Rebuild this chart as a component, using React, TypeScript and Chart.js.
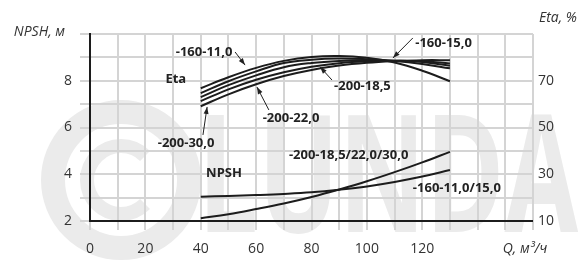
import React, { useEffect, useRef } from "react";
import { Chart, registerables } from "chart.js";

Chart.register(...registerables);

// Flow rate Q, m³/h
const Q = [40, 50, 60, 70, 80, 90, 100, 110, 120, 130];

// Efficiency curves, %
const eta160_11 = [66.8, 71.5, 75.5, 78.5, 80.2, 80.6, 79.8, 77.8, 74.3, 69.8];
const eta160_15 = [64.7, 69.8, 74.0, 77.6, 79.0, 79.5, 79.2, 78.5, 77.2, 75.3];
const eta200_185 = [63.0, 68.1, 72.3, 75.8, 77.6, 78.5, 78.8, 78.6, 78.0, 76.4];
const eta200_22 = [61.3, 66.3, 70.4, 73.6, 76.0, 77.5, 78.3, 78.6, 78.3, 77.4];
const eta200_30 = [59.1, 64.2, 68.5, 72.0, 74.6, 76.5, 77.7, 78.4, 78.8, 78.8];

// NPSH curves, m
const npsh160 = [3.04, 3.07, 3.11, 3.16, 3.23, 3.34, 3.48, 3.67, 3.9, 4.18];
const npsh200 = [2.12, 2.29, 2.51, 2.75, 3.03, 3.35, 3.7, 4.09, 4.51, 4.96];

// Tick labels
const xTickLabels = [0, 20, 40, 60, 80, 100, 120];
const yTickLabels = [2, 4, 6, 8];
const y1TickLabels = [10, 30, 50, 70];

// Annotations in data coordinates (Q, NPSH scale)
const labels = [
  { text: "-160-11,0", q: 41.2, n: 9.23, arrow: [52.4, 9.23, 56.0, 8.67] },
  { text: "Eta", q: 31.0, n: 8.07 },
  { text: "-160-15,0", q: 127.7, n: 9.61, arrow: [116.6, 9.83, 109.4, 8.97] },
  { text: "-200-18,5", q: 98.4, n: 7.78, arrow: [87.4, 8.03, 83.1, 8.59] },
  { text: "-200-22,0", q: 72.6, n: 6.41, arrow: [64.6, 6.75, 60.3, 7.73] },
  { text: "-200-30,0", q: 34.7, n: 5.34, arrow: [40.8, 5.68, 42.3, 6.88] },
  { text: "NPSH", q: 48.4, n: 4.05 },
  { text: "-200-18,5/22,0/30,0", q: 93.4, n: 4.82 },
  { text: "-160-11,0/15,0", q: 132.5, n: 3.41 },
];

const pts = (ys: number[]) => Q.map((q, i) => ({ x: q, y: ys[i] }));

const FONT = "'Open Sans', 'Noto Sans', sans-serif";

export default function App() {
  const ref = useRef<HTMLCanvasElement | null>(null);

  useEffect(() => {
    if (!ref.current) return;
    const lineStyle = {
      borderColor: "#1c1c1c",
      borderWidth: 2,
      pointRadius: 0,
      tension: 0.4,
      fill: false,
    };
    const etaSets = [eta160_11, eta160_15, eta200_185, eta200_22, eta200_30].map((d) => ({
      ...lineStyle,
      data: pts(d),
      yAxisID: "y1",
    }));
    const npshSets = [npsh160, npsh200].map((d) => ({
      ...lineStyle,
      data: pts(d),
      yAxisID: "y",
    }));

    const watermark = {
      id: "watermark",
      beforeDraw(chart: any) {
        const ctx = chart.ctx as CanvasRenderingContext2D;
        ctx.save();
        ctx.fillStyle = "#fff";
        ctx.fillRect(0, 0, chart.width, chart.height);
        ctx.strokeStyle = "#ebebeb";
        ctx.fillStyle = "#ebebeb";
        // copyright ring
        ctx.lineWidth = 24;
        ctx.beginPath();
        ctx.arc(121, 180, 68, 0, Math.PI * 2);
        ctx.stroke();
        ctx.lineWidth = 14;
        ctx.beginPath();
        ctx.arc(121, 180, 34, Math.PI * 0.25, Math.PI * 1.75);
        ctx.stroke();
        // LUNDA
        ctx.font = `bold 164px ${FONT}`;
        ctx.textBaseline = "alphabetic";
        ctx.textAlign = "left";
        const w = ctx.measureText("LUNDA").width;
        const target = 380;
        ctx.translate(198, 232);
        ctx.scale(target / w, 1);
        ctx.fillText("LUNDA", 0, 0);
        ctx.restore();
      },
    };

    const overlay = {
      id: "overlay",
      afterDraw(chart: any) {
        const ctx = chart.ctx as CanvasRenderingContext2D;
        const xs = chart.scales.x;
        const ys = chart.scales.y;
        const ca = chart.chartArea;
        ctx.save();
        // black axes
        ctx.strokeStyle = "#1c1c1c";
        ctx.lineWidth = 2;
        ctx.beginPath();
        ctx.moveTo(ca.left, ca.top - 1);
        ctx.lineTo(ca.left, ca.bottom);
        ctx.lineTo(ca.right, ca.bottom);
        ctx.stroke();

        // annotations
        ctx.fillStyle = "#222";
        ctx.font = `bold 13px ${FONT}`;
        ctx.textAlign = "center";
        ctx.textBaseline = "middle";
        for (const l of labels) {
          ctx.fillText(l.text, xs.getPixelForValue(l.q), ys.getPixelForValue(l.n));
          if (l.arrow) {
            const x1 = xs.getPixelForValue(l.arrow[0]);
            const y1 = ys.getPixelForValue(l.arrow[1]);
            const x2 = xs.getPixelForValue(l.arrow[2]);
            const y2 = ys.getPixelForValue(l.arrow[3]);
            ctx.strokeStyle = "#222";
            ctx.lineWidth = 1;
            ctx.beginPath();
            ctx.moveTo(x1, y1);
            ctx.lineTo(x2, y2);
            ctx.stroke();
            const a = Math.atan2(y2 - y1, x2 - x1);
            const L = 7;
            const W = 2.5;
            ctx.beginPath();
            ctx.moveTo(x2, y2);
            ctx.lineTo(x2 - L * Math.cos(a) + W * Math.sin(a), y2 - L * Math.sin(a) - W * Math.cos(a));
            ctx.lineTo(x2 - L * Math.cos(a) - W * Math.sin(a), y2 - L * Math.sin(a) + W * Math.cos(a));
            ctx.closePath();
            ctx.fill();
          }
        }

        // axis titles
        ctx.fillStyle = "#333";
        ctx.font = `italic 14px ${FONT}`;
        ctx.textAlign = "right";
        ctx.textBaseline = "middle";
        ctx.fillText("NPSH, м", ca.left - 25, ca.top - 2);
        ctx.fillText("Eta, %", chart.width - 3, 18);
        ctx.textAlign = "center";
        ctx.fillText("Q, м³/ч", ca.right - 8, 249);
        ctx.restore();
      },
    };

    const chart = new Chart(ref.current, {
      type: "line",
      data: { datasets: [...etaSets, ...npshSets] as any },
      options: {
        animation: false,
        responsive: false,
        devicePixelRatio: 1,
        layout: { padding: { top: 34, left: 0, right: 0, bottom: 0 } },
        plugins: { legend: { display: false }, tooltip: { enabled: false } },
        scales: {
          x: {
            type: "linear",
            min: 0,
            max: 160,
            afterFit: (s: any) => {
              s.height = 41;
            },
            grid: { color: "#d4d4d4", lineWidth: 2, tickLength: 9, drawTicks: true },
            border: { display: false },
            ticks: {
              stepSize: 10,
              autoSkip: false,
              maxRotation: 0,
              padding: 11,
              color: "#333",
              font: { family: FONT, size: 14 },
              callback: (v: any) => (xTickLabels.includes(v) ? String(v) : ""),
            },
          },
          y: {
            type: "linear",
            position: "left",
            min: 2,
            max: 10,
            afterFit: (s: any) => {
              s.width = 90;
            },
            grid: { color: "#d4d4d4", lineWidth: 2, tickLength: 10, drawTicks: true },
            border: { display: false },
            ticks: {
              stepSize: 1,
              autoSkip: false,
              padding: 8,
              color: "#333",
              font: { family: FONT, size: 14 },
              callback: (v: any) => (yTickLabels.includes(v) ? String(v) : ""),
            },
          },
          y1: {
            type: "linear",
            position: "right",
            min: 10,
            max: 90,
            afterFit: (s: any) => {
              s.width = 47;
            },
            grid: { display: false, drawTicks: false, tickLength: 0 },
            border: { display: false },
            ticks: {
              stepSize: 10,
              autoSkip: false,
              padding: 5,
              color: "#333",
              font: { family: FONT, size: 14 },
              callback: (v: any) => (y1TickLabels.includes(v) ? String(v) : ""),
            },
          },
        },
      },
      plugins: [watermark, overlay],
    });
    return () => chart.destroy();
  }, []);

  return (
    <div style={{ position: "absolute", left: 0, top: 0, width: 580, height: 262, background: "#fff" }}>
      <canvas ref={ref} width={580} height={262} style={{ width: 580, height: 262, display: "block" }} />
    </div>
  );
}
